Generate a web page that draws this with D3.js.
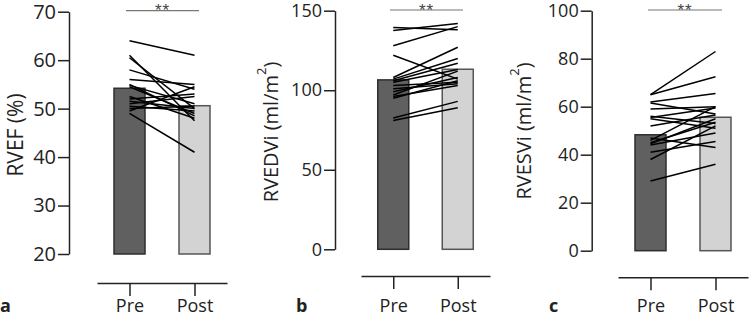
<!DOCTYPE html>
<html><head><meta charset="utf-8">
<script src="https://cdn.jsdelivr.net/npm/d3@7"></script>
<style>
html,body{margin:0;padding:0;background:#fff;}
svg{display:block;font-family:"Open Sans",sans-serif;}
</style></head><body>
<svg id="chart" width="749" height="317"></svg>
<script>
// ---- data ----
const groups = ["Pre", "Post"];

// Panel a: RVEF (%)
const rvefMeans = [54.2, 50.6];
const rvefPre  = [64, 61, 60.5, 58, 56, 55, 54.5, 54.8, 52, 51.5, 51, 50.5, 50, 49, 49.5, 52.5];
const rvefPost = [61, 47.5, 50, 54, 55, 48.5, 49, 51, 53, 50, 52.5, 49.5, 50.5, 41, 54.5, 48];
const rvefTicks = [20, 30, 40, 50, 60, 70];

// Panel b: RVEDVi (ml/m2)
const rvedviMeans = [106.5, 113.2];
const rvedviPre  = [139.5, 137.5, 128, 122, 108, 107, 106, 105, 103, 101, 99, 97, 96, 95, 82.5, 81];
const rvedviPost = [138, 142, 140, 107, 127, 120, 117, 113, 105, 104, 108, 112, 103, 106, 93, 89];
const rvedviTicks = [0, 50, 100, 150];

// Panel c: RVESVi (ml/m2)
const rvesviMeans = [48.3, 55.6];
const rvesviPre  = [65, 65, 62, 61.5, 59, 56, 55.5, 55, 52, 47, 46, 45, 44.5, 44, 41, 38, 29];
const rvesviPost = [83, 72.5, 65.5, 57, 60, 53, 59.5, 51, 56.5, 43, 60, 53.5, 55, 49, 45.5, 52, 36];
const rvesviTicks = [0, 20, 40, 60, 80, 100];

const panels = [
  {id:"a", label:"RVEF (%)", sup:null, means:rvefMeans, pre:rvefPre, post:rvefPost, ticks:rvefTicks,
   yDom:[20,70], yRange:[254,11.7], axisX:69, xRange:[97,227], xAxisY:283, labX:15, labY:135, letterX:0,
   sigY:10.7, sigX:[126,199], tickFont:20, labFont:21},
  {id:"b", label:"RVEDVi (ml/m", sup:"2", means:rvedviMeans, pre:rvedviPre, post:rvedviPost, ticks:rvedviTicks,
   yDom:[0,150], yRange:[249.3,10.7], axisX:335, xRange:[361,490], xAxisY:276, labX:270, labY:132, letterX:296,
   sigY:10, sigX:[390,463], tickFont:18, labFont:20},
  {id:"c", label:"RVESVi (ml/m", sup:"2", means:rvesviMeans, pre:rvesviPre, post:rvesviPost, ticks:rvesviTicks,
   yDom:[0,100], yRange:[250.7,10.7], axisX:591.7, xRange:[618,748], xAxisY:277.3, labX:523, labY:131, letterX:549,
   sigY:10, sigX:[648,722], tickFont:18, labFont:20}
];

const svg = d3.select("#chart");
const ink = "#222";
const barW = 31;
const fills = ["#606060", "#d3d3d3"];
const strokes = ["#2e2e2e", "#555"];

panels.forEach(p => {
  const g = svg.append("g");
  const y = d3.scaleLinear().domain(p.yDom).range(p.yRange);
  const x = d3.scalePoint().domain(groups).range(p.xRange).padding(0.5);

  // y axis
  const ya = g.append("g").attr("transform", `translate(${p.axisX},0)`)
    .call(d3.axisLeft(y).tickValues(p.ticks).tickSize(11).tickSizeOuter(0).tickPadding(2));
  ya.select(".domain").attr("stroke", ink).attr("stroke-width", 1.5);
  ya.selectAll(".tick line").attr("stroke", ink).attr("stroke-width", 1.5);
  ya.selectAll(".tick text").attr("fill", ink).attr("font-size", p.tickFont).attr("font-family", "Open Sans");

  // x axis
  const xa = g.append("g").attr("transform", `translate(0,${p.xAxisY})`)
    .call(d3.axisBottom(x).tickSize(13).tickSizeOuter(0).tickPadding(3));
  xa.select(".domain").attr("stroke", ink).attr("stroke-width", 1.5);
  xa.selectAll(".tick line").attr("stroke", ink).attr("stroke-width", 1.5);
  xa.selectAll(".tick text").attr("fill", ink).attr("font-size", 18).attr("font-family", "Open Sans")
    .attr("y", null).attr("dy", null).attr("transform", `translate(0,${312 - p.xAxisY})`);

  // bars
  g.selectAll("rect.bar").data(groups).enter().append("rect")
    .attr("class", "bar")
    .attr("x", d => x(d) - barW / 2)
    .attr("width", barW)
    .attr("y", (d, i) => y(p.means[i]))
    .attr("height", (d, i) => y(p.yDom[0]) - y(p.means[i]))
    .attr("fill", (d, i) => fills[i])
    .attr("stroke", (d, i) => strokes[i])
    .attr("stroke-width", 1.5);

  // paired lines
  const pairs = p.pre.map((v, i) => [v, p.post[i]]);
  g.selectAll("line.pair").data(pairs).enter().append("line")
    .attr("class", "pair")
    .attr("x1", x("Pre")).attr("x2", x("Post"))
    .attr("y1", d => y(d[0])).attr("y2", d => y(d[1]))
    .attr("stroke", "#000").attr("stroke-width", 1.5);

  // significance
  g.append("line").attr("x1", p.sigX[0]).attr("x2", p.sigX[1])
    .attr("y1", p.sigY).attr("y2", p.sigY).attr("stroke", "#777").attr("stroke-width", 1.2);
  g.append("text").attr("x", (p.sigX[0] + p.sigX[1]) / 2).attr("y", 15.5)
    .attr("text-anchor", "middle").attr("font-size", 17).attr("letter-spacing", 1)
    .attr("font-family", "Liberation Sans, Arial, sans-serif").attr("fill", "#444").text("**");

  // y label
  const t = g.append("text")
    .attr("transform", `translate(${p.labX},${p.labY}) rotate(-90)`)
    .attr("text-anchor", "middle").attr("dominant-baseline", "central")
    .attr("font-size", p.labFont).attr("fill", ink);
  t.append("tspan").text(p.label);
  if (p.sup) {
    t.append("tspan").attr("font-size", 13).attr("dy", -9).text(p.sup);
    t.append("tspan").attr("dy", 9).text(")");
  }

  // panel letter
  g.append("text").attr("x", p.letterX).attr("y", 312)
    .attr("font-size", 18).attr("font-weight", "bold").attr("fill", ink).text(p.id);
});
</script>
</body></html>
